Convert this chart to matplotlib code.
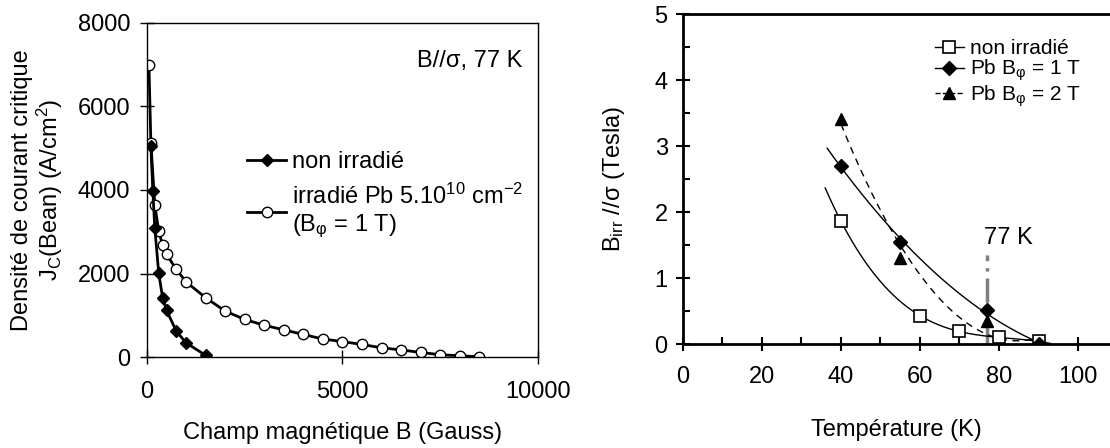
import numpy as np
import matplotlib
matplotlib.use('Agg')
import matplotlib.pyplot as plt
import matplotlib.lines as mlines

plt.rcParams['font.family'] = ['Liberation Sans', 'DejaVu Sans']
plt.rcParams['mathtext.fontset'] = 'custom'
plt.rcParams['mathtext.rm'] = 'Liberation Sans'
plt.rcParams['mathtext.it'] = 'Liberation Sans:italic'
plt.rcParams['mathtext.bf'] = 'Liberation Sans:bold'
plt.rcParams['font.size'] = 17

# left panel: Jc(B) at 77 K
b_non = [100, 150, 200, 300, 400, 500, 750, 1000, 1500]
jc_non = [5050, 3980, 3100, 2010, 1420, 1120, 620, 340, 40]
b_irr = [50, 100, 200, 300, 400, 500, 750, 1000, 1500, 2000, 2500, 3000,
         3500, 4000, 4500, 5000, 5500, 6000, 6500, 7000, 7500, 8000, 8500]
jc_irr = [7000, 5130, 3640, 3020, 2680, 2460, 2100, 1800, 1420, 1100, 900, 760,
          650, 540, 430, 370, 300, 220, 170, 110, 55, 30, 5]

# right panel: irreversibility line
t_non = [40, 60, 70, 80, 90]
birr_non = [1.86, 0.43, 0.19, 0.10, 0.04]
t_pb1 = [40, 55, 77, 90]
birr_pb1 = [2.70, 1.55, 0.51, 0.0]
t_pb2 = [40, 55, 77, 90]
birr_pb2 = [3.41, 1.31, 0.35, 0.0]
labels_r = ['non irradié', 'Pb B$_{\\mathrm{φ}}$ = 1 T', 'Pb B$_{\\mathrm{φ}}$ = 2 T']

fig = plt.figure(figsize=(11.1, 4.48), dpi=100)

# ---------- left ----------
ax1 = fig.add_axes([0.1324, 0.2031, 0.3523, 0.7456])
ax1.plot(b_non, jc_non, color='black', lw=2, marker='D', ms=6.5,
         mfc='black', mec='black', label='non irradié', zorder=3)
ax1.plot(b_irr, jc_irr, color='black', lw=2, marker='o', ms=7.5,
         mfc='white', mec='black', mew=1, zorder=2,
         label='irradié Pb 5.10$^{10}$ cm$^{-2}$\n(B$_{\\mathrm{φ}}$ = 1 T)')
ax1.set_xlim(0, 10000)
ax1.set_ylim(0, 8000)
ax1.set_xticks([0, 5000, 10000])
ax1.set_yticks([0, 2000, 4000, 6000, 8000])
ax1.tick_params(direction='inout', length=10, width=1, colors='black')
ax1.tick_params(axis='x', pad=12)
ax1.tick_params(axis='y', pad=7)
for s in ax1.spines.values():
    s.set_linewidth(1)
ax1.set_xlabel('Champ magnétique B (Gauss)', labelpad=14)
ax1.set_ylabel('Densité de courant critique\nJ$_\\mathrm{C}$(Bean) (A/cm$^2$)',
               labelpad=9, linespacing=1.1)
ax1.text(0.96, 0.885, 'B//σ, 77 K', transform=ax1.transAxes,
         ha='right', va='center')
ax1.legend(loc='upper left', bbox_to_anchor=(0.232, 0.645), frameon=False,
           handlelength=1.65, handletextpad=0.25, labelspacing=0.45,
           borderaxespad=0, fontsize=17)

# ---------- right ----------
ax2 = fig.add_axes([0.6153, 0.2321, 0.3847, 0.7366])


def fit_curve(t, b, deg, t0, t1, **kw):
    c = np.polyfit(t, b, deg)
    tt = np.linspace(t0, t1, 200)
    bb = np.polyval(c, tt)
    ax2.plot(tt, np.clip(bb, 0, None), color='black', **kw)


fit_curve(t_non, birr_non, 3, 36, 93, lw=1)
fit_curve(t_pb1, birr_pb1, 2, 36.5, 92, lw=1)
fit_curve(t_pb2, birr_pb2, 2, 40, 90, lw=1, ls=(0, (5, 4)))

ax2.plot([77, 77], [0, 1.35], color='#808080', lw=2.5, ls=(0, (7, 2, 1, 2)),
         zorder=1)
ax2.text(82.5, 1.6, '77 K', ha='center', va='center')

ax2.plot(t_non, birr_non, ls='none', marker='s', ms=8,
         mfc='white', mec='black', mew=1.2)
ax2.plot(t_pb1, birr_pb1, ls='none', marker='D', ms=7,
         mfc='black', mec='black')
ax2.plot(t_pb2, birr_pb2, ls='none', marker='^', ms=8,
         mfc='black', mec='black')

handles = [
    mlines.Line2D([], [], color='black', lw=1, ls='-', marker='s', ms=8,
                  mfc='white', mec='black', mew=1.2),
    mlines.Line2D([], [], color='black', lw=1, ls='-', marker='D', ms=7,
                  mfc='black'),
    mlines.Line2D([], [], color='black', lw=1, ls='--', marker='^', ms=8,
                  mfc='black'),
]
ax2.legend(handles, labels_r, loc='upper left', bbox_to_anchor=(0.57, 0.95),
           frameon=False, handlelength=1.4, handletextpad=0.3,
           labelspacing=0.0, borderaxespad=0, fontsize=15)

ax2.set_xlim(0, 108.1)
ax2.set_ylim(0, 5)
ax2.set_xticks([0, 20, 40, 60, 80, 100])
ax2.set_xticks([10, 30, 50, 70, 90], minor=True)
ax2.set_yticks([0, 1, 2, 3, 4, 5])
ax2.set_yticks([0.5, 1.5, 2.5, 3.5, 4.5], minor=True)
ax2.tick_params(which='major', direction='inout', length=10, width=1.5)
ax2.tick_params(which='minor', direction='in', length=5, width=1.5)
ax2.tick_params(axis='x', which='major', pad=11)
ax2.tick_params(axis='y', which='major', pad=6)
ax2.spines['right'].set_visible(False)
for k in ['left', 'top', 'bottom']:
    ax2.spines[k].set_linewidth(2)
ax2.set_xlabel('Température (K)', labelpad=22)
ax2.set_ylabel('B$_{\\mathrm{irr}}$ //σ (Tesla)', labelpad=20)

fig.savefig('out.png', dpi=100)
